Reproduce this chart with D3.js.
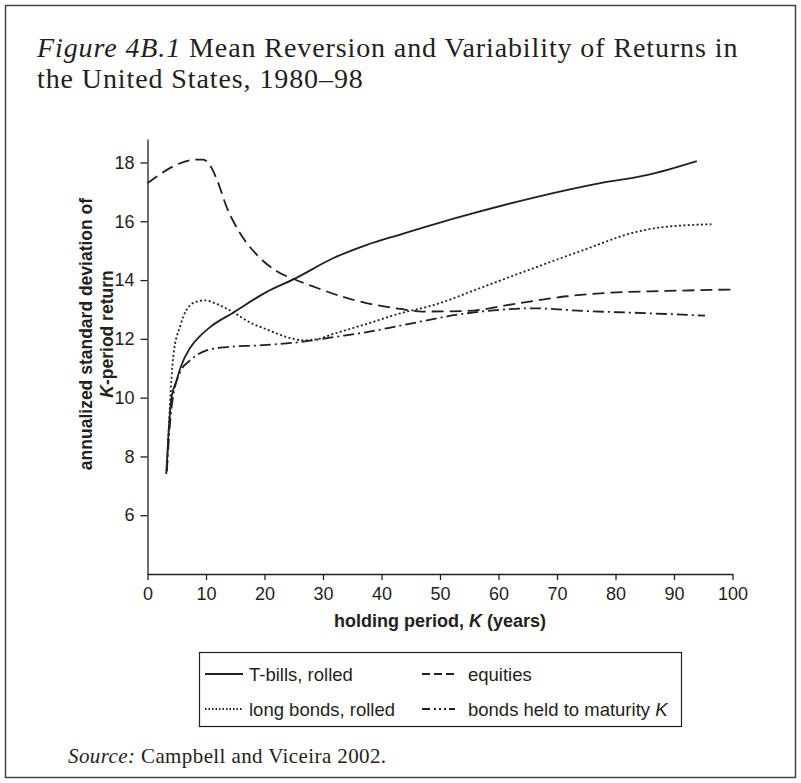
<!DOCTYPE html>
<html>
<head>
<meta charset="utf-8">
<script src="https://cdn.jsdelivr.net/npm/d3@7"></script>
<style>
  body { margin: 0; background: #fff; }
  svg text { fill: #231f20; }
</style>
</head>
<body>
<div id="chart"></div>
<script>
// values (K in years, annualized std dev)
var xTicks = [0, 10, 20, 30, 40, 50, 60, 70, 80, 90, 100];
var yTicks = [6, 8, 10, 12, 14, 16, 18];

var tbillsK = [3.2, 3.6, 4.1, 5.0, 5.6, 7.3, 9.0, 10.7, 14.7, 20.4, 25.2, 31.8, 37.5, 43.2, 53.4, 65.9, 77.4, 85.3, 93.9];
var tbillsV = [7.4, 8.8, 10.0, 10.6, 11.0, 11.7, 12.1, 12.4, 12.9, 13.6, 14.05, 14.75, 15.2, 15.55, 16.15, 16.8, 17.3, 17.57, 18.05];

var equitiesK = [0, 8.4, 9.5, 10.7, 11.9, 13.5, 15.8, 18.7, 22.1, 25.2, 28.9, 32.9, 36.9, 43.2, 47, 54.6, 63.1, 71.7, 77.4, 88.8, 100];
var equitiesV = [17.3, 18.1, 18.1, 17.9, 17.4, 16.5, 15.6, 14.86, 14.3, 14.02, 13.74, 13.46, 13.24, 13.02, 12.93, 12.95, 13.2, 13.45, 13.55, 13.63, 13.68];

var longK = [3.3, 3.85, 4.4, 5.6, 6.7, 8.4, 9.8, 11.9, 14.7, 17.5, 20.4, 23.8, 26.7, 28.5, 31.8, 37.5, 43.2, 48.9, 57.4, 65.9, 74.5, 83.0, 87.6, 96.4];
var longV = [7.5, 9.8, 11.4, 12.45, 13.0, 13.27, 13.31, 13.18, 12.9, 12.56, 12.32, 12.06, 11.95, 11.97, 12.17, 12.51, 12.87, 13.15, 13.77, 14.4, 15.02, 15.61, 15.79, 15.9];

var maturityK = [3.3, 4.1, 5.6, 7.3, 10.1, 13.5, 19.2, 26.0, 31.8, 37.5, 43.2, 54.6, 65.9, 74.5, 85.9, 95.3];
var maturityV = [7.5, 9.65, 10.88, 11.27, 11.61, 11.72, 11.78, 11.89, 12.06, 12.23, 12.45, 12.87, 13.04, 12.95, 12.87, 12.79];

var ink = "#231f20";
var sans = "'Liberation Sans', Arial, sans-serif";
var serif = "'Liberation Serif', 'DejaVu Serif', serif";

var series = [
  { name: "T-bills, rolled", k: tbillsK, v: tbillsV, dash: null, key: null },
  { name: "equities", k: equitiesK, v: equitiesV, dash: "12,6", key: "8,4" },
  { name: "long bonds, rolled", k: longK, v: longV, dash: "2,2.4", key: "1.5,2" },
  { name: "bonds held to maturity", k: maturityK, v: maturityV, dash: "11,4,2,4", key: "8,4,2,3,2,3,2,3" }
];

var width = 801, height = 783;

var svg = d3.select("#chart")
    .append("svg")
    .attr("width", width)
    .attr("height", height);

// frame round the whole figure
svg.append("rect")
    .attr("x", 5.5).attr("y", 5.5)
    .attr("width", 790).attr("height", 772)
    .attr("fill", "none")
    .attr("stroke", "#444")
    .attr("stroke-width", 1.5);

// title, two lines
var titleStyle = function(t) {
  return t.attr("font-family", serif)
      .attr("font-size", 28)
      .attr("letter-spacing", 0.9);
};
var t1 = titleStyle(svg.append("text").attr("x", 37).attr("y", 57));
t1.append("tspan").attr("font-style", "italic").text("Figure 4B.1");
t1.append("tspan").text(" Mean Reversion and Variability of Returns in");
titleStyle(svg.append("text").attr("x", 37).attr("y", 88))
    .text("the United States, 1980\u201398");

var x = d3.scaleLinear().domain([0, 100]).range([147.5, 732.5]);
var y = d3.scaleLinear().domain([4, 18.8]).range([574, 139]);

var xAxis = svg.append("g")
    .attr("transform", "translate(0,574)")
    .call(d3.axisBottom(x).tickValues(xTicks).tickSizeInner(6).tickSizeOuter(0).tickPadding(7));

var yAxis = svg.append("g")
    .attr("transform", "translate(147.5,0)")
    .call(d3.axisLeft(y).tickValues(yTicks).tickSizeInner(7).tickSizeOuter(0).tickPadding(6));

[xAxis, yAxis].forEach(function(a) {
  a.selectAll("path, line").attr("stroke", ink).attr("stroke-width", 1.3);
  a.selectAll("text").attr("font-family", sans).attr("font-size", 18).attr("fill", ink);
});

// axis titles
var xl = svg.append("text")
    .attr("x", 440).attr("y", 627)
    .attr("text-anchor", "middle")
    .attr("font-family", sans)
    .attr("font-weight", "bold")
    .attr("font-size", 18);
xl.append("tspan").text("holding period, ");
xl.append("tspan").attr("font-style", "italic").text("K");
xl.append("tspan").text(" (years)");

var ylStyle = function(t) {
  return t.attr("text-anchor", "middle")
      .attr("font-family", sans)
      .attr("font-weight", "bold")
      .attr("font-size", 17.5);
};
ylStyle(svg.append("text").attr("transform", "translate(92,334) rotate(-90)"))
    .text("annualized standard deviation of");
var yl2 = ylStyle(svg.append("text").attr("transform", "translate(113,334) rotate(-90)"));
yl2.append("tspan").attr("font-style", "italic").text("K");
yl2.append("tspan").text("-period return");

// curves
var line = d3.line()
    .x(function(d) { return x(d[0]); })
    .y(function(d) { return y(d[1]); })
    .curve(d3.curveMonotoneX);

series.forEach(function(s) {
  var pts = s.k.map(function(k, i) { return [k, s.v[i]]; });
  svg.append("path")
      .datum(pts)
      .attr("d", line)
      .attr("fill", "none")
      .attr("stroke", ink)
      .attr("stroke-width", 1.8)
      .attr("stroke-dasharray", s.dash);
});

// legend
var lg = svg.append("g").attr("transform", "translate(199,652)");
lg.append("rect")
    .attr("x", 0.5).attr("y", 0.5)
    .attr("width", 482).attr("height", 74)
    .attr("fill", "none")
    .attr("stroke", ink)
    .attr("stroke-width", 1.2);

var slots = [
  { sx: 6, sw: 38, tx: 50, ty: 22 },
  { sx: 223, sw: 33, tx: 269, ty: 22 },
  { sx: 6, sw: 38, tx: 50, ty: 57 },
  { sx: 223, sw: 33, tx: 269, ty: 57 }
];
series.forEach(function(s, i) {
  var p = slots[i];
  lg.append("line")
      .attr("x1", p.sx).attr("x2", p.sx + p.sw)
      .attr("y1", p.ty).attr("y2", p.ty)
      .attr("stroke", ink)
      .attr("stroke-width", 1.8)
      .attr("stroke-dasharray", s.key);
  var t = lg.append("text")
      .attr("x", p.tx).attr("y", p.ty + 6.5)
      .attr("font-family", sans)
      .attr("font-size", 18.5)
      .text(s.name);
  if (i === 3) t.append("tspan").text(" ").append("tspan").attr("font-style", "italic").text("K");
});

// source note
var src = svg.append("text")
    .attr("x", 68).attr("y", 763)
    .attr("font-family", serif)
    .attr("font-size", 21)
    .attr("letter-spacing", 0.4);
src.append("tspan").attr("font-style", "italic").text("Source:");
src.append("tspan").text(" Campbell and Viceira 2002.");
</script>
</body>
</html>
